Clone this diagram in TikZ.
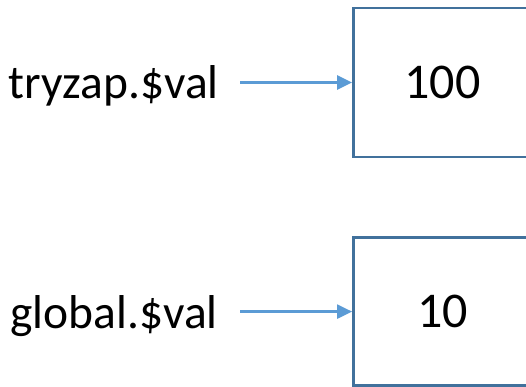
\documentclass[tikz,border=0pt]{standalone}
\usepackage{fontspec}
\setmainfont{Carlito}
\usetikzlibrary{arrows.meta}
\definecolor{boxblue}{HTML}{41719C}
\definecolor{arrowblue}{HTML}{5B9BD5}
\begin{document}
\begin{tikzpicture}[x=1pt,y=1pt,
  valbox/.style={draw=boxblue,line width=2.8pt,minimum width=178pt,inner sep=0pt,
    font=\fontsize{50}{60}\selectfont},
  varlabel/.style={inner sep=0pt,anchor=base east,font=\fontsize{47.5}{57}\selectfont},
  ptr/.style={draw=arrowblue,line width=2.4pt,-{Triangle[length=15pt,width=14pt]}}]
\useasboundingbox (0,0) rectangle (526,387);
\clip (0,0) rectangle (526,387);
\node[valbox,minimum height=149pt] (b1) at (442.5,304.5) {100};
\node[valbox,minimum height=148pt] (b2) at (442.5,75.4) {10};
\node[varlabel] (l1) at (219,288.7) {tryzap.\$val};
\node[varlabel] (l2) at (218,58.7) {global.\$val};
\draw[ptr] ([xshift=21pt]l1.east |- b1.west) -- (b1.west);
\draw[ptr] ([xshift=22pt]l2.east |- b2.west) -- (b2.west);
\end{tikzpicture}
\end{document}
